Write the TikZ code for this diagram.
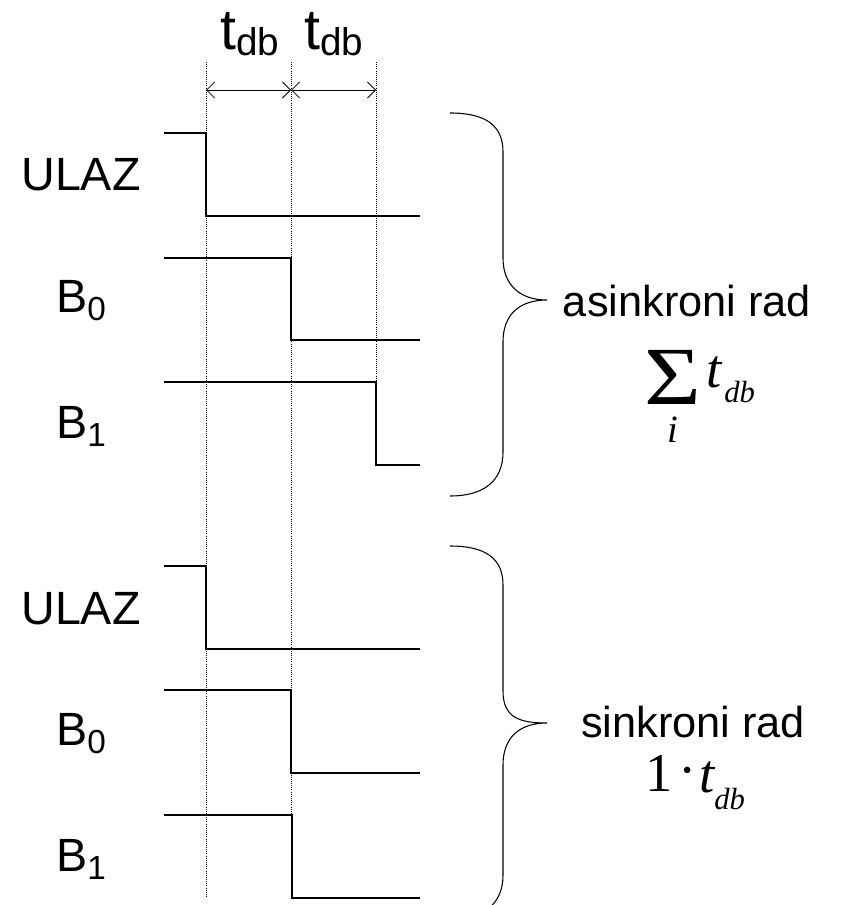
\documentclass[tikz,border=0pt]{standalone}
\usepackage{fontspec}
\setmainfont{Liberation Sans}
\newfontfamily\timesfont{Liberation Serif}
\usetikzlibrary{arrows.meta}

\begin{document}
\begin{tikzpicture}[x=0.75pt,y=-0.75pt,
    signal/.style={line width=1pt},
    raster/.style={densely dotted, line width=0.6pt},
    natpis/.style={font=\fontsize{35}{38}\selectfont},
    naslov/.style={font=\fontsize{32.5}{36}\selectfont},
    formula/.style={font=\timesfont\fontsize{41}{44}\selectfont, inner sep=0pt},
    kosa/.style={font=\timesfont\itshape\fontsize{41}{44}\selectfont, inner sep=0pt},
    indeks/.style={font=\timesfont\itshape\fontsize{23}{25}\selectfont, inner sep=0pt},
    mjera/.style={{Straight Barb[length=6pt,width=12pt]}-{Straight Barb[length=6pt,width=12pt]}, line width=0.6pt},
    zagrada/.style={line width=0.8pt}]
\clip (0,0) rectangle (841,905);
\fill[white] (0,0) rectangle (841,905);
    % vremenske oznake gore:
    \coordinate (t0) at (206,90);
    \coordinate (t1) at (291,90);
    \coordinate (t2) at (376,90);
    \draw[raster] (206,62) -- (206,897); % prva linija
    \draw[raster] (291,62) -- (291,898); % druga linija
    \draw[raster] (376,62) -- (376,465); % treca linija
    \draw[mjera] (t0) -- (t1);
    \draw[mjera] (t1) -- (t2);
    \node[font=\fontsize{43}{46}\selectfont] (tdb1) at (250,34) {t\raisebox{-5pt}{\fontsize{29}{31}\selectfont db}};
    \node[font=\fontsize{43}{46}\selectfont] (tdb2) at (334,34) {t\raisebox{-5pt}{\fontsize{29}{31}\selectfont db}};
    % asinkroni rad:
    \node[natpis] (ulazA) at (81,175) {ULAZ};
    \node[natpis] (bnulaA) at (81,301) {B\raisebox{-6pt}{\fontsize{25}{27}\selectfont 0}};
    \node[natpis] (bjedanA) at (81,426) {B\raisebox{-6pt}{\fontsize{25}{27}\selectfont 1}};
    \draw[signal] (164,133) -| (206,216) -- (420,216); % ULAZ
    \draw[signal] (164,258) -| (291,340) -- (420,340); % B0
    \draw[signal] (164,382) -| (376,465) -- (420,465); % B1
    % sinkroni rad:
    \node[natpis] (ulazS) at (81,609) {ULAZ};
    \node[natpis] (bnulaS) at (81,734) {B\raisebox{-6pt}{\fontsize{25}{27}\selectfont 0}};
    \node[natpis] (bjedanS) at (81,859) {B\raisebox{-6pt}{\fontsize{25}{27}\selectfont 1}};
    \draw[signal] (164,566) -| (206,649) -- (420,649); % ULAZ
    \draw[signal] (164,690) -| (291,773) -- (420,773); % B0
    \draw[signal] (164,815) -| (292,898) -- (420,898); % B1
    % zagrade:
    \draw[zagrada] (450,113) .. controls (485,113) and (503,125) .. (503,152) -- (503,258)
        .. controls (503,285) and (520,300) .. (547,300)
        .. controls (520,300) and (503,314) .. (503,342) -- (503,452)
        .. controls (503,480) and (485,496) .. (450,496);
    \draw[zagrada] (450,546) .. controls (485,546) and (503,558) .. (503,585) -- (503,691)
        .. controls (503,718) and (520,723) .. (547,723)
        .. controls (520,723) and (503,737) .. (503,765) -- (503,875)
        .. controls (503,903) and (485,919) .. (450,919);
    % opisi:
    \node[naslov] (asin) at (687,301) {asinkroni rad};
    \node[formula, anchor=base, text depth=0pt, font=\timesfont\fontsize{62}{64}\selectfont] (sigma) at (673,404) {\scalebox{1.18}[1]{Σ}};
    \node[indeks, anchor=base, text height=0.66em, text depth=0pt, font=\timesfont\itshape\fontsize{29}{31}\selectfont] (isum) at (673,442) {i};
    \node[kosa, anchor=base west] (tsum) at (706,387) {t};
    \node[indeks, anchor=base west] (dbsum) at (724,402) {db};
    \node[naslov] (sin) at (693,722) {sinkroni rad};
    \node[formula, anchor=base west] (jedan) at (645,791) {1};
    \node[formula] (tocka) at (688,778) {·};
    \node[kosa, anchor=base west] (tsin) at (699,792) {t};
    \node[indeks, anchor=base west] (dbsin) at (714,809) {db};
\end{tikzpicture}
\end{document}
